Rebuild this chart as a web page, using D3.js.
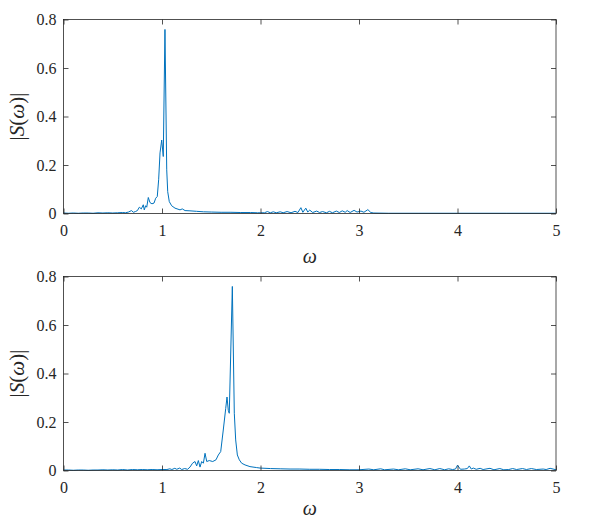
<!DOCTYPE html>
<html>
<head>
	<meta charset="utf-8">
	<title>spectrum</title>
	<script src="https://cdn.jsdelivr.net/npm/d3@7"></script>
	<style>
		body { margin: 0; background: #fff; }
		svg { display: block; }
	</style>
</head>
<body>
<div id="chart"></div>
<script>
// top panel spectrum
var w1 = [0, 0.05, 0.1, 0.15, 0.2, 0.25, 0.3, 0.35, 0.4, 0.45, 0.5, 0.55, 0.6, 0.63, 0.66, 0.69, 0.71, 0.73, 0.75,
	0.77, 0.79, 0.81, 0.82, 0.834, 0.845, 0.861, 0.878, 0.898, 0.919, 0.936, 0.952, 0.966, 0.98, 0.997, 1.013, 1.03,
	1.048, 1.058, 1.074, 1.098, 1.132, 1.183, 1.206, 1.234, 1.284, 1.35, 1.42, 1.5, 1.6, 1.7, 1.8, 1.9, 1.97, 2.0,
	2.04, 2.07, 2.10, 2.13, 2.16, 2.2, 2.23, 2.27, 2.31, 2.35, 2.38, 2.41, 2.43, 2.46, 2.48, 2.5, 2.53, 2.57, 2.6,
	2.63, 2.67, 2.7, 2.73, 2.77, 2.8, 2.83, 2.86, 2.88, 2.91, 2.95, 2.98, 3.02, 3.05, 3.09, 3.12, 3.15, 3.3, 3.6,
	4.0, 4.5, 5.0];
var s1 = [0.002, 0.001, 0.002, 0.001, 0.002, 0.002, 0.001, 0.003, 0.002, 0.003, 0.002, 0.003, 0.004, 0.003, 0.006, 0.012, 0.005, 0.008, 0.012,
	0.026, 0.019, 0.036, 0.015, 0.032, 0.026, 0.066, 0.045, 0.040, 0.043, 0.063, 0.070, 0.139, 0.25, 0.303, 0.235, 0.759,
	0.18, 0.09, 0.049, 0.032, 0.022, 0.015, 0.019, 0.012, 0.011, 0.009, 0.007, 0.006, 0.005, 0.005, 0.004, 0.004, 0.003, 0.003,
	0.003, 0.008, 0.003, 0.007, 0.003, 0.007, 0.003, 0.008, 0.003, 0.009, 0.004, 0.024, 0.005, 0.022, 0.006, 0.014, 0.004, 0.010, 0.004,
	0.008, 0.003, 0.009, 0.003, 0.010, 0.004, 0.011, 0.005, 0.012, 0.004, 0.013, 0.006, 0.010, 0.005, 0.016, 0.004, 0.002, 0.001, 0.001,
	0.001, 0.001, 0.001];

// bottom panel spectrum
var w2 = [0, 0.05, 0.1, 0.15, 0.2, 0.25, 0.3, 0.35, 0.4, 0.45, 0.5, 0.55, 0.6, 0.65, 0.7, 0.75, 0.8, 0.85, 0.9, 0.95,
	1.0, 1.05, 1.08, 1.1, 1.13, 1.15, 1.18, 1.2, 1.23, 1.26, 1.284, 1.31, 1.335, 1.352, 1.369, 1.386, 1.403, 1.42,
	1.437, 1.454, 1.48, 1.515, 1.548, 1.572, 1.596, 1.622, 1.647, 1.66, 1.673, 1.683, 1.714, 1.734, 1.748, 1.765,
	1.785, 1.809, 1.843, 1.893, 1.961, 1.995, 2.1, 2.2, 2.3, 2.4, 2.5, 2.6, 2.7, 2.8, 2.9, 3.0, 3.1, 3.15, 3.22,
	3.26, 3.35, 3.4, 3.47, 3.52, 3.6, 3.65, 3.72, 3.77, 3.82, 3.87, 3.91, 3.95, 3.98, 4.0, 4.03, 4.07, 4.1, 4.12,
	4.14, 4.16, 4.19, 4.23, 4.26, 4.33, 4.37, 4.43, 4.47, 4.52, 4.56, 4.6, 4.66, 4.7, 4.75, 4.8, 4.87, 4.9, 4.94,
	4.97, 5.0];
var s2 = [0.002, 0.002, 0.001, 0.002, 0.002, 0.001, 0.002, 0.002, 0.003, 0.002, 0.003, 0.002, 0.004, 0.002, 0.004, 0.003, 0.004, 0.003, 0.004, 0.003,
	0.004, 0.004, 0.007, 0.004, 0.009, 0.005, 0.010, 0.004, 0.008, 0.005, 0.014, 0.030, 0.037, 0.019, 0.041, 0.014, 0.037, 0.030,
	0.071, 0.037, 0.041, 0.037, 0.044, 0.064, 0.078, 0.167, 0.256, 0.303, 0.248, 0.236, 0.759, 0.236, 0.126, 0.064,
	0.044, 0.030, 0.023, 0.016, 0.012, 0.010, 0.008, 0.007, 0.006, 0.006, 0.005, 0.005, 0.004, 0.004, 0.003, 0.003, 0.006, 0.003, 0.007,
	0.003, 0.006, 0.003, 0.007, 0.003, 0.007, 0.003, 0.008, 0.003, 0.008, 0.003, 0.007, 0.004, 0.006, 0.022, 0.005, 0.006, 0.008, 0.019,
	0.006, 0.010, 0.005, 0.009, 0.004, 0.009, 0.003, 0.008, 0.003, 0.004, 0.008, 0.004, 0.008, 0.004, 0.008, 0.004, 0.006, 0.004, 0.009,
	0.006, 0.003];

var xTicks = [0, 1, 2, 3, 4, 5];
var yTicks = [0, 0.2, 0.4, 0.6, 0.8];

var W = 589, H = 530;
var left = 63.5, right = 556;
var panels = [
	{ top: 19.5, bottom: 213.5, xlab: 263, w: w1, s: s1 },
	{ top: 276.5, bottom: 470.5, xlab: 515, w: w2, s: s2 }
];
var ink = "#262626";
var font = "'Liberation Serif', 'Times New Roman', serif";

var svg = d3.select("#chart").append("svg")
	.attr("width", W)
	.attr("height", H);

panels.forEach(function(p, i) {
	var x = d3.scaleLinear().domain([0, 5]).range([left, right]);
	var y = d3.scaleLinear().domain([0, 0.8]).range([p.bottom, p.top]);
	var g = svg.append("g");

	var line = d3.line()
		.x(function(d) { return x(d[0]); })
		.y(function(d) { return y(d[1]); });
	var pts = p.w.map(function(v, k) { return [v, p.s[k]]; });

	g.append("path")
		.datum(pts)
		.attr("d", line)
		.attr("fill", "none")
		.attr("stroke", "#0072BD")
		.attr("stroke-width", 1)
		.attr("stroke-linejoin", "round");

	// axes, ticks pointing inward
	var fy = function(d) { return d === 0 ? "0" : d.toFixed(1); };
	var ax = [
		[d3.axisBottom(x).tickValues(xTicks).tickFormat(d3.format("d")).tickPadding(11), "translate(0," + p.bottom + ")"],
		[d3.axisTop(x).tickValues(xTicks).tickFormat(""), "translate(0," + p.top + ")"],
		[d3.axisLeft(y).tickValues(yTicks).tickFormat(fy).tickPadding(7), "translate(" + left + ",0)"],
		[d3.axisRight(y).tickValues(yTicks).tickFormat(""), "translate(" + right + ",0)"]
	];
	ax.forEach(function(a) {
		var ag = g.append("g")
			.attr("transform", a[1])
			.call(a[0].tickSizeInner(-5).tickSizeOuter(0));
		ag.attr("font-family", font).attr("font-size", 16);
		ag.select(".domain").remove();
		ag.selectAll("line").attr("stroke", ink).attr("stroke-width", 0.8);
		ag.selectAll("text").attr("fill", ink);
	});

	g.append("rect")
		.attr("x", left)
		.attr("y", p.top)
		.attr("width", right - left)
		.attr("height", p.bottom - p.top)
		.attr("fill", "none")
		.attr("stroke", ink)
		.attr("stroke-width", 0.8);

	// labels
	g.append("text")
		.attr("x", (left + right) / 2)
		.attr("y", p.xlab)
		.attr("text-anchor", "middle")
		.attr("font-family", font)
		.attr("font-size", 20)
		.attr("font-style", "italic")
		.attr("fill", ink)
		.text("ω");

	var yl = g.append("text")
		.attr("transform", "translate(24," + ((p.top + p.bottom) / 2) + ") rotate(-90)")
		.attr("text-anchor", "middle")
		.attr("font-family", font)
		.attr("font-size", 21)
		.attr("fill", ink);
	yl.append("tspan").text("|");
	yl.append("tspan").attr("font-style", "italic").text("S");
	yl.append("tspan").text("(");
	yl.append("tspan").attr("font-style", "italic").text("ω");
	yl.append("tspan").text(")|");
});
</script>
</body>
</html>
